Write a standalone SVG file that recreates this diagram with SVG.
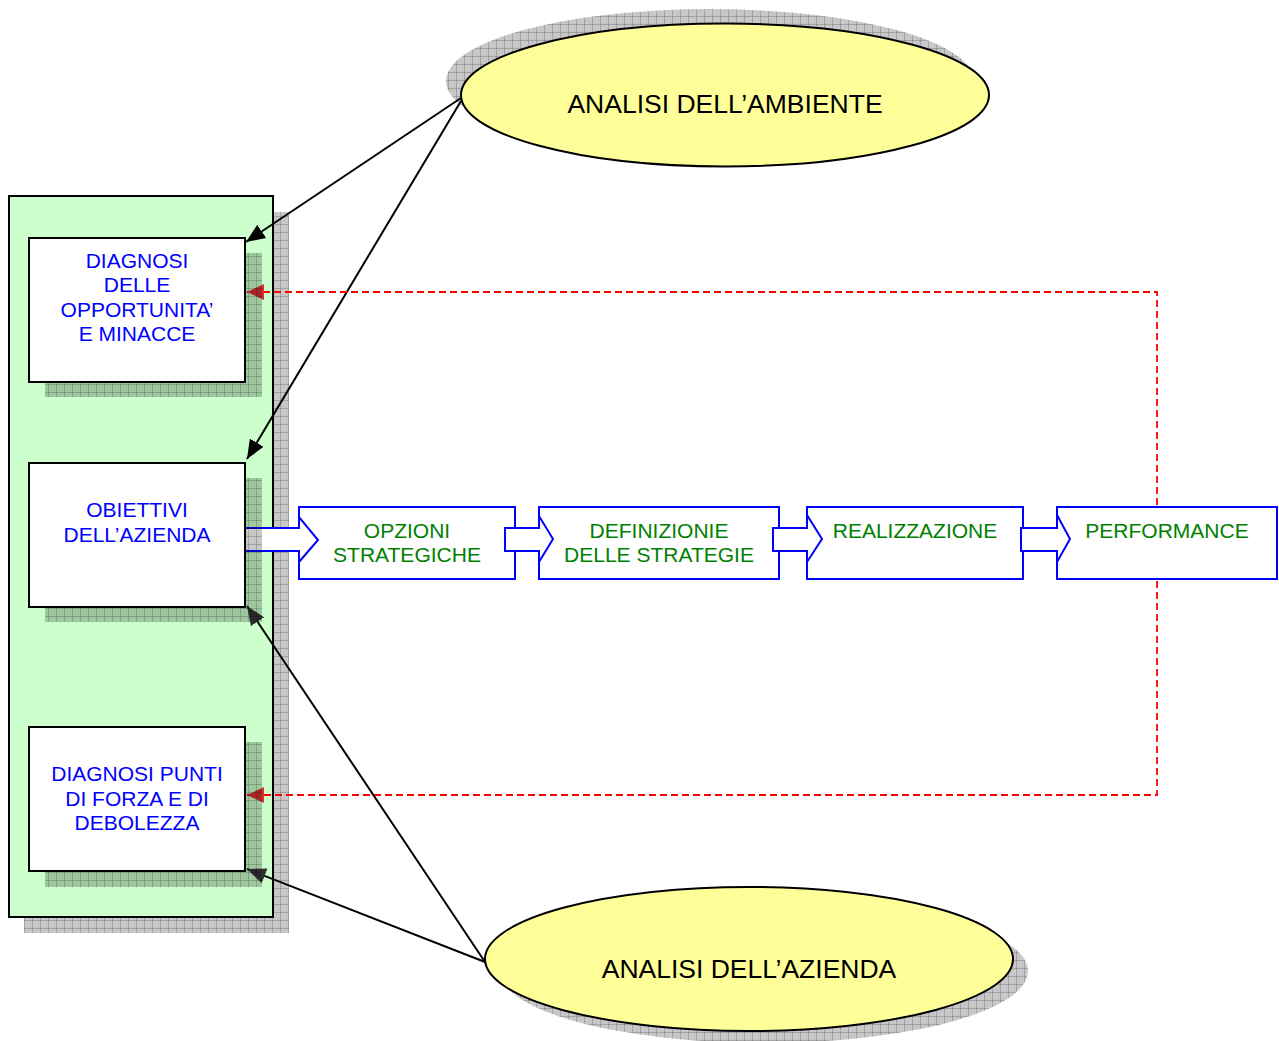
<svg xmlns="http://www.w3.org/2000/svg" width="1279" height="1041" viewBox="0 0 1279 1041">
<defs>
<pattern id="sh" width="8" height="8" patternUnits="userSpaceOnUse">
<rect width="8" height="8" fill="#000" fill-opacity="0.22"/>
<path d="M0 0.5H8M0.5 0V8" stroke="#000" stroke-opacity="0.18" stroke-width="1"/>
</pattern>
<marker id="ah" markerUnits="userSpaceOnUse" markerWidth="20" markerHeight="16" refX="19" refY="8" orient="auto">
<path d="M0,0 L19,8 L0,16 Z" fill="#000"/>
</marker>
<marker id="ahg" markerUnits="userSpaceOnUse" markerWidth="20" markerHeight="16" refX="19" refY="8" orient="auto">
<path d="M0,0 L19,8 L0,16 Z" fill="#333"/>
</marker>
<marker id="ahr" markerUnits="userSpaceOnUse" markerWidth="18" markerHeight="16" refX="17" refY="8" orient="auto">
<path d="M0,0 L17,8 L0,16 Z" fill="#d83030"/>
</marker>
</defs>
<style>
.ell{fill:#ffff99;stroke:#000;stroke-width:2}
.eltxt{font-family:"Liberation Sans",Arial,sans-serif;font-size:26.5px;fill:#000;text-anchor:middle}
.box{fill:#fff;stroke:#000;stroke-width:2}
.btxt{font-family:"Liberation Sans",Arial,sans-serif;font-size:21px;fill:#0000ff;text-anchor:middle}
.pbox{fill:#fff;stroke:#0000ff;stroke-width:2}
.ptxt{font-family:"Liberation Sans",Arial,sans-serif;font-size:21px;fill:#008000;text-anchor:middle}
.barrow{fill:#fff;stroke:#0000ff;stroke-width:2;stroke-linejoin:miter}
.conn{fill:none;stroke:#000;stroke-width:2}
.dash{fill:none;stroke:#ff0000;stroke-width:1.8;stroke-dasharray:7 4}
</style>

<g id="analisi-ambiente">
<ellipse cx="710" cy="81" rx="264" ry="72" fill="url(#sh)"/>
<ellipse class="ell" cx="725" cy="95" rx="264" ry="71.5"/>
<text class="eltxt" x="725" y="113">ANALISI DELL’AMBIENTE</text>
</g>

<g id="analisi-azienda">
<ellipse cx="764" cy="971" rx="264" ry="72" fill="url(#sh)"/>
<ellipse class="ell" cx="749" cy="959" rx="264" ry="72"/>
<text class="eltxt" x="749" y="978">ANALISI DELL’AZIENDA</text>
</g>

<g id="container">
<path d="M273,212 H289 V933 H24 V917 H273 Z" fill="url(#sh)"/>
<rect x="9" y="196" width="264" height="721" fill="#ccffcc" stroke="#000" stroke-width="2"/>
</g>

<g id="connectors">
<line class="conn" x1="461" y1="98" x2="246" y2="242" marker-end="url(#ah)"/>
<line class="conn" x1="461" y1="101" x2="247" y2="459" marker-end="url(#ah)"/>
<line class="conn" x1="485" y1="962" x2="247" y2="606" marker-end="url(#ahg)"/>
<line class="conn" x1="485" y1="962" x2="247" y2="869" marker-end="url(#ahg)"/>
<path class="dash" d="M1157,505 V292 H247" marker-end="url(#ahr)"/>
<path class="dash" d="M1157,581 V795 H247" marker-end="url(#ahr)"/>
</g>

<g id="opzioni">
<rect class="pbox" x="299" y="507" width="216" height="72"/>
<text class="ptxt" x="407" y="538">OPZIONI</text>
<text class="ptxt" x="407" y="562">STRATEGICHE</text>
</g>
<g id="definizione">
<rect class="pbox" x="539" y="507" width="240" height="72"/>
<text class="ptxt" x="659" y="538">DEFINIZIONIE</text>
<text class="ptxt" x="659" y="562">DELLE STRATEGIE</text>
</g>
<g id="realizzazione">
<rect class="pbox" x="807" y="507" width="216" height="72"/>
<text class="ptxt" x="915" y="538">REALIZZAZIONE</text>
</g>
<g id="performance">
<rect class="pbox" x="1057" y="507" width="220" height="72"/>
<text class="ptxt" x="1167" y="538">PERFORMANCE</text>
</g>

<g id="flow-arrows">
<path class="barrow" d="M245,528 H299 V517 L318,540 L299,562 V551 H245"/>
<path class="barrow" d="M505,528 H539 V516 L553,539 L539,562 V551 H505 Z"/>
<path class="barrow" d="M773,528 H807 V515 L822,539 L807,562 V551 H773 Z"/>
<path class="barrow" d="M1021,528 H1057 V515 L1070,539 L1057,562 V551 H1021 Z"/>
</g>

<g id="diagnosi-opportunita">
<rect x="45" y="253" width="217" height="144" fill="url(#sh)"/>
<rect class="box" x="29" y="238" width="216" height="144"/>
<text class="btxt" x="137" y="268">DIAGNOSI</text>
<text class="btxt" x="137" y="292">DELLE</text>
<text class="btxt" x="137" y="317">OPPORTUNITA’</text>
<text class="btxt" x="137" y="341">E MINACCE</text>
</g>

<g id="obiettivi">
<rect x="45" y="478" width="217" height="144" fill="url(#sh)"/>
<rect class="box" x="29" y="463" width="216" height="144"/>
<text class="btxt" x="137" y="517">OBIETTIVI</text>
<text class="btxt" x="137" y="542">DELL’AZIENDA</text>
</g>

<g id="diagnosi-punti">
<rect x="45" y="742" width="217" height="145" fill="url(#sh)"/>
<rect class="box" x="29" y="727" width="216" height="144"/>
<text class="btxt" x="137" y="781">DIAGNOSI PUNTI</text>
<text class="btxt" x="137" y="806">DI FORZA E DI</text>
<text class="btxt" x="137" y="830">DEBOLEZZA</text>
</g>
</svg>
